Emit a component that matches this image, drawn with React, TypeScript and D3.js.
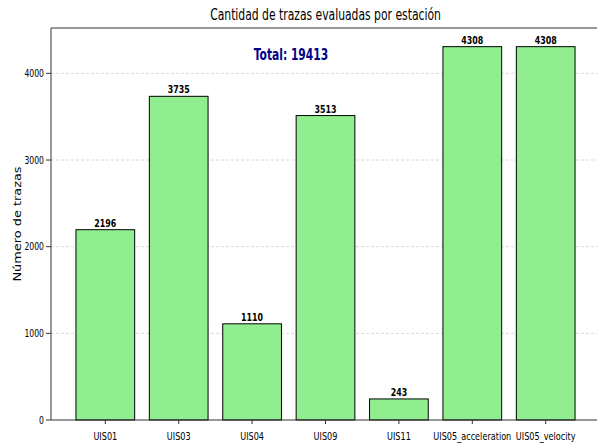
import React, { useEffect, useRef } from 'react';
import * as d3 from 'd3';

const stations = ['UIS01', 'UIS03', 'UIS04', 'UIS09', 'UIS11', 'UIS05_acceleration', 'UIS05_velocity'];
const counts = [2196, 3735, 1110, 3513, 243, 4308, 4308];
const yTicks = [0, 1000, 2000, 3000, 4000];
const total = 19413;

const FONT = '"DejaVu Sans", sans-serif';
// the reference is squeezed horizontally, so text gets a scaleX
const SX = 0.74;

const App = () => {
  const svgRef = useRef<SVGSVGElement>(null);

  useEffect(() => {
    const width = 597;
    const height = 446;
    const margin = { top: 28, right: -3, bottom: 26, left: 51 };
    const innerW = width - margin.left - margin.right;
    const innerH = height - margin.top - margin.bottom;

    const svg = d3.select(svgRef.current)
      .attr('width', width)
      .attr('height', height)
      .style('font-family', FONT);
    svg.selectAll('*').remove();

    // matplotlib-like limits: bars of width 0.8 plus 5% margin
    const x = d3.scaleLinear().domain([-0.74, stations.length - 1 + 0.74]).range([0, innerW]);
    const barW = x(0.8) - x(0);
    const yMax = d3.max(counts)! * 1.05;
    const y = d3.scaleLinear().domain([0, yMax]).range([innerH, 0]);

    const g = svg.append('g').attr('transform', `translate(${margin.left},${margin.top})`);

    const label = (parent: any, tx: number, ty: number, txt: string | number, size: number, sx = SX) =>
      parent.append('text')
        .attr('transform', `translate(${tx},${ty}) scale(${sx},1)`)
        .attr('font-size', size)
        .text(txt);

    // grid
    g.selectAll('.grid')
      .data(yTicks.filter((d) => d > 0))
      .enter()
      .append('line')
      .attr('x1', 0)
      .attr('x2', innerW)
      .attr('y1', (d) => y(d))
      .attr('y2', (d) => y(d))
      .attr('stroke', '#cfcfcf')
      .attr('stroke-width', 0.8)
      .attr('stroke-dasharray', '3,2');

    // bars
    g.selectAll('.bar')
      .data(counts)
      .enter()
      .append('rect')
      .attr('x', (_, i) => x(i) - barW / 2)
      .attr('y', (d) => y(d))
      .attr('width', barW)
      .attr('height', (d) => innerH - y(d))
      .attr('fill', '#90ee90')
      .attr('stroke', '#000')
      .attr('stroke-width', 1);

    // value labels
    counts.forEach((d, i) => {
      label(g, x(i), y(d) - 3, d, 11, 0.72)
        .attr('text-anchor', 'middle')
        .attr('font-weight', 'bold');
    });

    // axes
    const xAxis = g.append('g').attr('transform', `translate(0,${innerH})`);
    xAxis.append('line').attr('x1', 0).attr('x2', innerW).attr('stroke', '#333').attr('stroke-width', 1);
    stations.forEach((s, i) => {
      xAxis.append('line').attr('x1', x(i)).attr('x2', x(i)).attr('y1', 0).attr('y2', 4).attr('stroke', '#333');
      label(xAxis, x(i), 19.5, s, 11).attr('text-anchor', 'middle');
    });

    const yAxis = g.append('g');
    yAxis.append('line').attr('y1', 0).attr('y2', innerH).attr('stroke', '#333');
    yTicks.forEach((t) => {
      yAxis.append('line').attr('x1', -5).attr('x2', 0).attr('y1', y(t)).attr('y2', y(t)).attr('stroke', '#333');
      label(yAxis, -7, y(t) + 3.8, t, 11, 0.7).attr('text-anchor', 'end');
    });

    // top spine
    g.append('line').attr('x1', 0).attr('x2', innerW).attr('y1', 0).attr('y2', 0).attr('stroke', '#333');

    // title
    label(svg, margin.left + innerW / 2, 20, 'Cantidad de trazas evaluadas por estación', 15, 0.72)
      .attr('text-anchor', 'middle');

    // total annotation
    label(g, innerW * 0.437, 32, `Total: ${total}`, 16, 0.67)
      .attr('text-anchor', 'middle')
      .attr('font-weight', 'bold')
      .attr('fill', '#00008b');

    // y label
    svg.append('text')
      .attr('transform', `translate(21,${margin.top + innerH / 2}) scale(0.8,1) rotate(-90)`)
      .attr('text-anchor', 'middle')
      .attr('font-size', 12.9)
      .text('Número de trazas');
  }, []);

  return <svg ref={svgRef} style={{ display: 'block', position: 'absolute', left: 0, top: 0 }}></svg>;
};

export default App;
